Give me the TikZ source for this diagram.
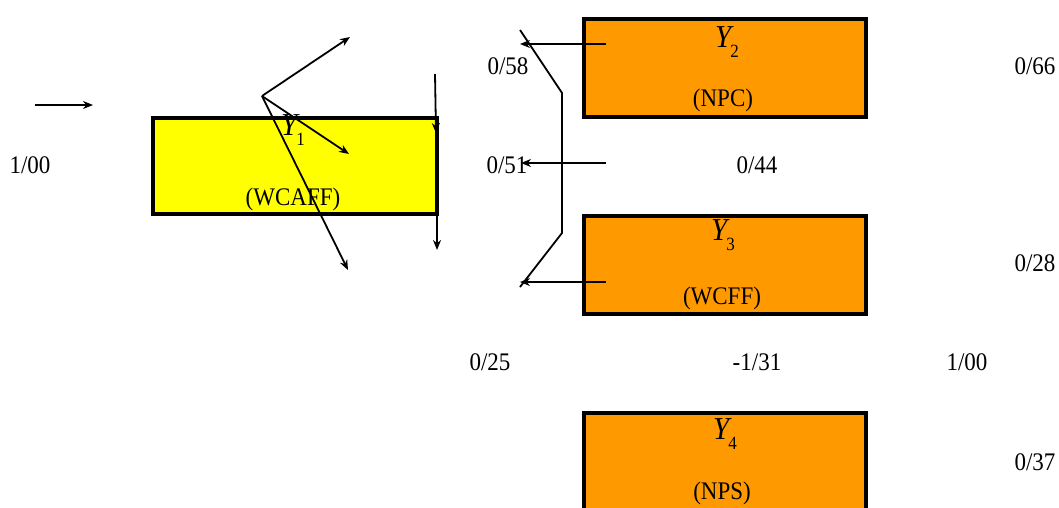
\documentclass[tikz,border=0pt]{standalone}
\usepackage{fontspec}
\setmainfont{Liberation Serif}
\usetikzlibrary{arrows.meta}
\definecolor{boxorange}{RGB}{255,153,0}
\definecolor{boxyellow}{RGB}{255,255,0}
\newcommand{\ylab}[1]{\scalebox{1}[1.1]{{\fontsize{29}{30}\selectfont\itshape Y}\kern-1pt\raisebox{-0.4em}{\fontsize{17}{17}\selectfont #1}}}
\newcommand{\tl}[1]{\scalebox{1}[1.1]{#1}}
\begin{document}
\begin{tikzpicture}[x=1pt,y=-1pt,
  box/.style={draw=black, line width=4pt, anchor=north west, inner sep=0pt, minimum width=282pt},
  lbl/.style={font=\fontsize{23}{26}\selectfont, inner sep=0pt},
  arr/.style={-{Stealth[length=10pt,width=8pt]}, line width=1.8pt},
  ln/.style={line width=1.8pt}]
\useasboundingbox (0,0) rectangle (1059,507);
\clip (0,0) rectangle (1059,507);
% boxes
\node[box, fill=boxyellow, minimum width=284pt, minimum height=96pt] (b1) at (151,116) {};
\node[box, fill=boxorange, minimum height=98pt] (b2) at (582,17) {};
\node[box, fill=boxorange, minimum height=98pt] (b3) at (582,214) {};
\node[box, fill=boxorange, minimum height=130pt] (b4) at (582,411) {};
% box labels
\node[lbl] (y1) at (293,130) {\ylab{1}};
\node[lbl] (n1) at (293,199) {\tl{(WCAFF)}};
\node[lbl] (y2) at (727,42) {\ylab{2}};
\node[lbl] (n2) at (723,100) {\tl{(NPC)}};
\node[lbl] (y3) at (723,235) {\ylab{3}};
\node[lbl] (n3) at (722,298) {\tl{(WCFF)}};
\node[lbl] (y4) at (725,434) {\ylab{4}};
\node[lbl] (n4) at (722,493) {\tl{(NPS)}};
% number labels
\node[lbl] (t100a) at (30,165) {\tl{1/00}};
\node[lbl] (t058) at (508,66) {\tl{0/58}};
\node[lbl] (t051) at (507,165) {\tl{0/51}};
\node[lbl] (t044) at (757,165) {\tl{0/44}};
\node[lbl] (t066) at (1035,66) {\tl{0/66}};
\node[lbl] (t028) at (1035,263) {\tl{0/28}};
\node[lbl] (t025) at (490,362) {\tl{0/25}};
\node[lbl] (t131) at (757,362) {\tl{-1/31}};
\node[lbl] (t100b) at (967,362) {\tl{1/00}};
\node[lbl] (t037) at (1035,462) {\tl{0/37}};
% coordinates
\coordinate (inA) at (35,105);
\coordinate (inB) at (93,105);
\coordinate (fan) at (262,96);
\coordinate (f1) at (350,37);
\coordinate (f2) at (349,154);
\coordinate (f3) at (348,270);
\coordinate (v1a) at (435,74);
\coordinate (v1b) at (436,133);
\coordinate (v2a) at (437,193);
\coordinate (v2b) at (437,250);
\coordinate (a2s) at (606,44);
\coordinate (a2e) at (520,44);
\coordinate (a0s) at (606,163);
\coordinate (a0e) at (521,163);
\coordinate (a3s) at (606,282);
\coordinate (a3e) at (520,282);
\coordinate (k1) at (520,30);
\coordinate (k2) at (562,93);
\coordinate (k3) at (562,233);
\coordinate (k4) at (520,287);
% connectors
\draw[arr] (inA) -- (inB);
\draw[arr] (fan) -- (f1);
\draw[arr] (fan) -- (f2);
\draw[arr] (fan) -- (f3);
\draw[arr] (v1a) -- (v1b);
\draw[arr] (v2a) -- (v2b);
\draw[arr] (a2s) -- (a2e);
\draw[arr] (a0s) -- (a0e);
\draw[arr] (a3s) -- (a3e);
\draw[ln] (k1) -- (k2) -- (k3) -- (k4);
\end{tikzpicture}
\end{document}
